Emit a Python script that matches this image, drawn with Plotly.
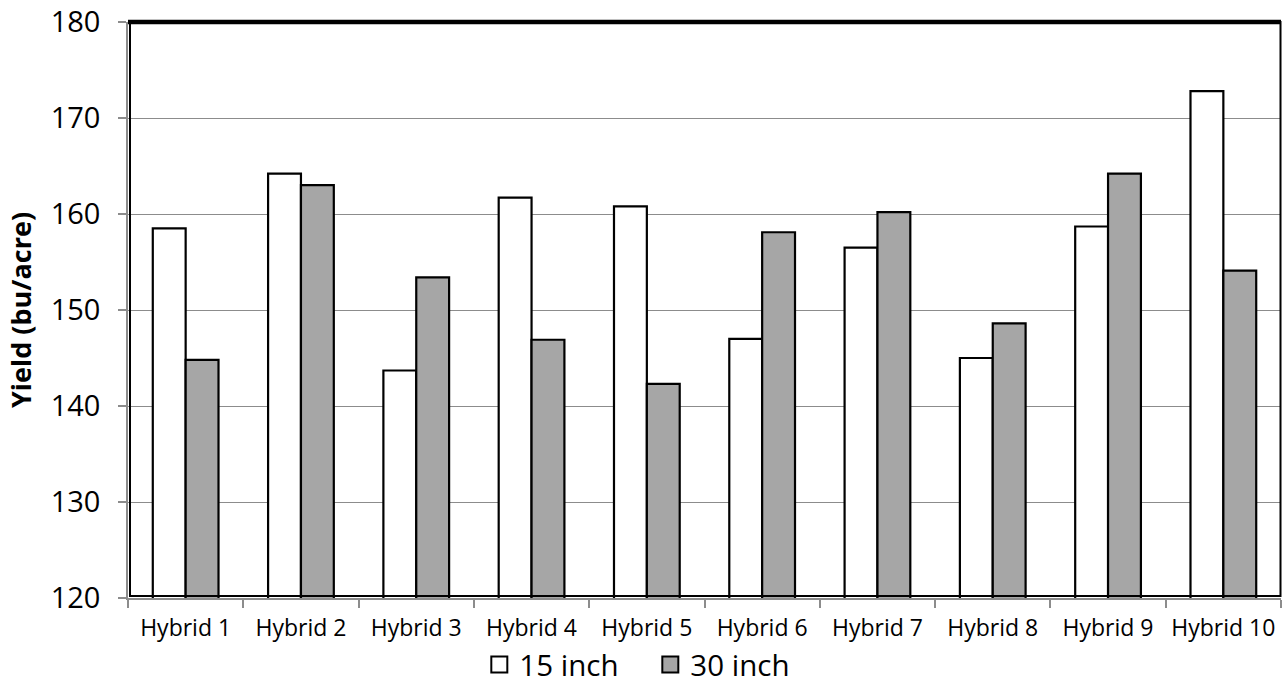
import plotly.graph_objects as go

categories = ["Hybrid 1", "Hybrid 2", "Hybrid 3", "Hybrid 4", "Hybrid 5",
              "Hybrid 6", "Hybrid 7", "Hybrid 8", "Hybrid 9", "Hybrid 10"]
yield_15in = [158.5, 164.2, 143.7, 161.7, 160.8, 147.0, 156.5, 145.0, 158.7, 172.8]
yield_30in = [144.8, 163.0, 153.4, 146.9, 142.3, 158.1, 160.2, 148.6, 164.2, 154.1]
series_names = ["15 inch", "30 inch"]
y_ticks = [120, 130, 140, 150, 160, 170, 180]

FONT = "Open Sans"
WHITE = "#ffffff"
GRAY = "#a6a6a6"
GRID = "#8c8c8c"

fig = go.Figure()
fig.add_trace(go.Bar(x=categories, y=yield_15in, name=series_names[0],
                     marker=dict(color=WHITE, line=dict(color="black", width=2.2)),
                     showlegend=False))
fig.add_trace(go.Bar(x=categories, y=yield_30in, name=series_names[1],
                     marker=dict(color=GRAY, line=dict(color="black", width=2.2)),
                     showlegend=False))
# legend entries with larger square symbols
for nm, col in zip(series_names, [WHITE, GRAY]):
    fig.add_trace(go.Scatter(x=[None], y=[None], mode="markers", name=nm,
                             marker=dict(symbol="square", size=20, color=col,
                                         line=dict(color="black", width=2))))

fig.update_layout(
    width=1282, height=685,
    margin=dict(l=128, r=1, t=22, b=87, autoexpand=False),
    paper_bgcolor="white", plot_bgcolor="white",
    barmode="group", bargap=0.43, bargroupgap=0,
    font=dict(family=FONT, color="black"),
    legend=dict(orientation="h", x=0.453, xanchor="center", y=-0.116, yanchor="middle",
                font=dict(size=29.5, family=FONT, color="black"),
                itemwidth=30, entrywidth=126, entrywidthmode="pixels",
                tracegroupgap=0, bgcolor="rgba(0,0,0,0)"),
    xaxis=dict(type="category", tickson="boundaries", showgrid=False,
               automargin=False, tickangle=0,
               showline=True, linecolor=GRID, linewidth=1.5,
               ticks="outside", ticklen=8, tickcolor=GRID, tickwidth=1.5,
               ticklabelstandoff=9, ticklabeloverflow="allow",
               tickfont=dict(size=23, family=FONT, color="black")),
    yaxis=dict(range=[120, 180], tickvals=y_ticks, automargin=False,
               showgrid=True, gridcolor=GRID, gridwidth=1.4,
               showline=True, linecolor=GRID, linewidth=1.5,
               ticks="outside", ticklen=8, tickcolor=GRID, tickwidth=1.5,
               ticklabelstandoff=12, ticklabeloverflow="allow",
               tickfont=dict(size=29, family=FONT, color="black"),
               title=dict(text="<b>Yield (bu/acre)</b>", standoff=11,
                          font=dict(size=27, family=FONT, color="black"))),
)

# black border of the plot area, inset slightly from the gray axis lines
fig.add_shape(type="rect", xref="paper", yref="paper",
              x0=2/1153, x1=1 - 0.5/1153, y0=2/576, y1=1,
              line=dict(color="black", width=2), fillcolor="rgba(0,0,0,0)", layer="above")
fig.add_shape(type="line", xref="paper", yref="paper", x0=0, x1=1, y0=1, y1=1,
              line=dict(color="black", width=4.5), layer="above")

fig.write_html("out.html",
               config={"displayModeBar": False},
               post_script="document.body.style.margin='0';document.body.style.overflow='hidden';")
